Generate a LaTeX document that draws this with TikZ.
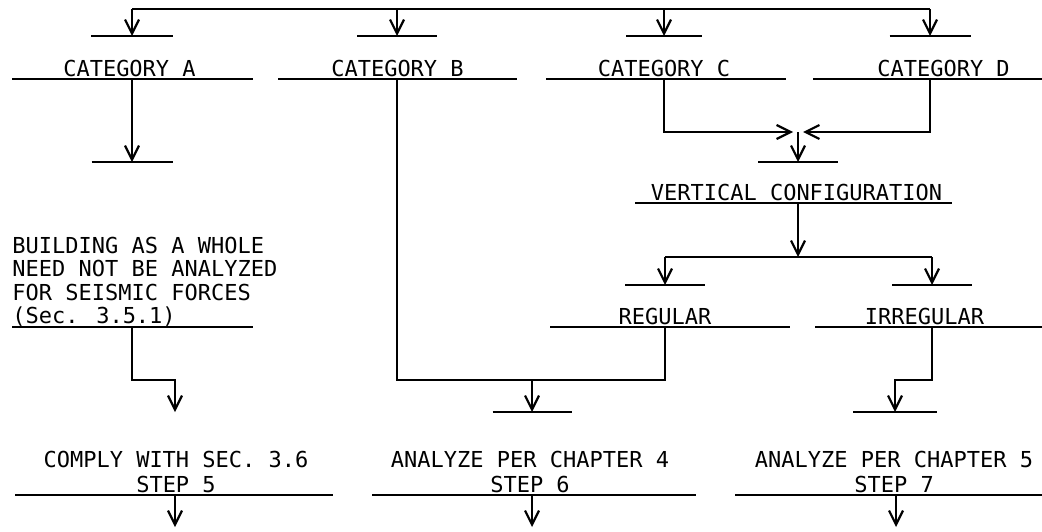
\documentclass[tikz,border=0pt]{standalone}
\usepackage{fontspec}
\newfontfamily\tw{DejaVu Sans Mono}
\usetikzlibrary{arrows.meta, positioning}

\begin{document}
\begin{tikzpicture}[x=0.5pt, y=-0.5pt,
    flow/.style={line width=0.8pt, -{Straight Barb[length=7pt, width=7pt, line width=1.1pt]}},
    wire/.style={line width=0.8pt},
    rule/.style={minimum width=#1*0.5pt, minimum height=0pt, inner sep=0pt, outer sep=0pt,
        append after command={(\tikzlastnode.west) edge[line width=1pt] (\tikzlastnode.east)}},
    lbl/.style={font=\tw\fontsize{11}{11.5}\selectfont, inner sep=0pt, text depth=0pt}]
    \useasboundingbox (0,0) rectangle (1042,531);

    % 1. Đường phân nhánh trên cùng và bốn vạch đón
    \coordinate (tl) at (132,9);
    \coordinate (tr) at (930,9);
    \node[rule=82] (ba) at (132,36) {};
    \node[rule=80] (bb) at (397,36) {};
    \node[rule=76] (bc) at (664,36) {};
    \node[rule=81] (bd) at (930,36) {};
    \draw[wire] (tl) -- (tr);
    \foreach \b in {ba,bb,bc,bd}
        \draw[flow] (\b |- tl) -- (\b);

    % 2. Bốn loại công trình
    \node[rule=241] (la) at (132.5,79) {};
    \node[rule=239] (lb) at (397.5,79) {};
    \node[rule=240] (lc) at (666,79) {};
    \node[rule=229] (ld) at (927.5,79) {};
    \node[lbl, above=1pt of la, xshift=-1.5pt] (catA) {CATEGORY A};
    \node[lbl, above=1pt of lb] (catB) {CATEGORY B};
    \node[lbl, above=1pt of lc, xshift=-1pt] (catC) {CATEGORY C};
    \node[lbl, above=1pt of ld, xshift=8pt] (catD) {CATEGORY D};

    % 3. Nhánh A
    \node[rule=81] (ba2) at (132,162) {};
    \draw[flow] (ba2 |- la) -- (ba2);
    \node[rule=241] (lw) at (132.5,327) {};
    \node[lbl, font=\tw\fontsize{11}{11.75}\selectfont, align=left, above right=1.5pt and 0pt of lw.west] (whole)
        {BUILDING AS A WHOLE\\NEED NOT BE ANALYZED\\FOR SEISMIC FORCES\\(Sec. 3.5.1)};

    % 4. Nhánh C, D gộp lại
    \coordinate (mg) at (798,132);
    \node[rule=80] (bv) at (798,162) {};
    \draw[flow] (bc |- lc) |- ([xshift=-2.5pt]mg);
    \draw[flow] (bd |- ld) |- ([xshift=2.5pt]mg);
    \draw[flow] (mg) -- (bv);
    \node[rule=317] (lv) at (793.5,203) {};
    \node[lbl, above=1pt of lv, xshift=1.5pt] (vert) {VERTICAL CONFIGURATION};

    % 5. Đều / không đều
    \coordinate (sp) at (798,257);
    \draw[flow] (sp |- lv) -- (sp);
    \node[rule=80] (br) at (665,285) {};
    \node[rule=80] (bi) at (932,285) {};
    \draw[wire] (br |- sp) -- (bi |- sp);
    \draw[flow] (br |- sp) -- (br);
    \draw[flow] (bi |- sp) -- (bi);
    \node[rule=240] (lr) at (670,327) {};
    \node[rule=227] (li) at (928.5,327) {};
    \node[lbl, above=1pt of lr, xshift=-2.5pt] (reg) {REGULAR};
    \node[lbl, above=1pt of li, xshift=-2pt] (irr) {IRREGULAR};

    % 6. Các nhánh đi xuống bước 5, 6, 7
    \coordinate (jr) at (532,380);
    \coordinate (c5) at (175,412);
    \node[rule=79] (b6) at (532,412) {};
    \node[rule=84] (b7) at (895,412) {};
    \draw[flow] (ba2 |- lw) |- (c5 |- jr) -- (c5);
    \draw[wire] (bb |- lb) |- (br |- jr) -- (br |- lr);
    \draw[flow] (jr) -- (b6);
    \draw[flow] (bi |- li) |- (b7 |- jr) -- (b7);

    % 7. Kết quả
    \node[rule=318] (l5) at (174,495) {};
    \node[rule=324] (l6) at (534,495) {};
    \node[rule=307] (l7) at (888.5,495) {};
    \node[lbl, font=\tw\fontsize{11}{12.5}\selectfont, align=center, above=1pt of l5, xshift=1pt] (s5)
        {COMPLY WITH SEC. 3.6\\STEP 5};
    \node[lbl, font=\tw\fontsize{11}{12.5}\selectfont, align=center, above=1pt of l6, xshift=-2pt] (s6)
        {ANALYZE PER CHAPTER 4\\STEP 6};
    \node[lbl, font=\tw\fontsize{11}{12.5}\selectfont, align=center, above=1pt of l7, xshift=2.75pt] (s7)
        {ANALYZE PER CHAPTER 5\\STEP 7};
    \coordinate (o5) at (175,527);
    \coordinate (o6) at (532,527);
    \coordinate (o7) at (896,527);
    \foreach \o/\l in {o5/l5, o6/l6, o7/l7}
        \draw[flow] (\o |- \l) -- (\o);
\end{tikzpicture}
\end{document}
